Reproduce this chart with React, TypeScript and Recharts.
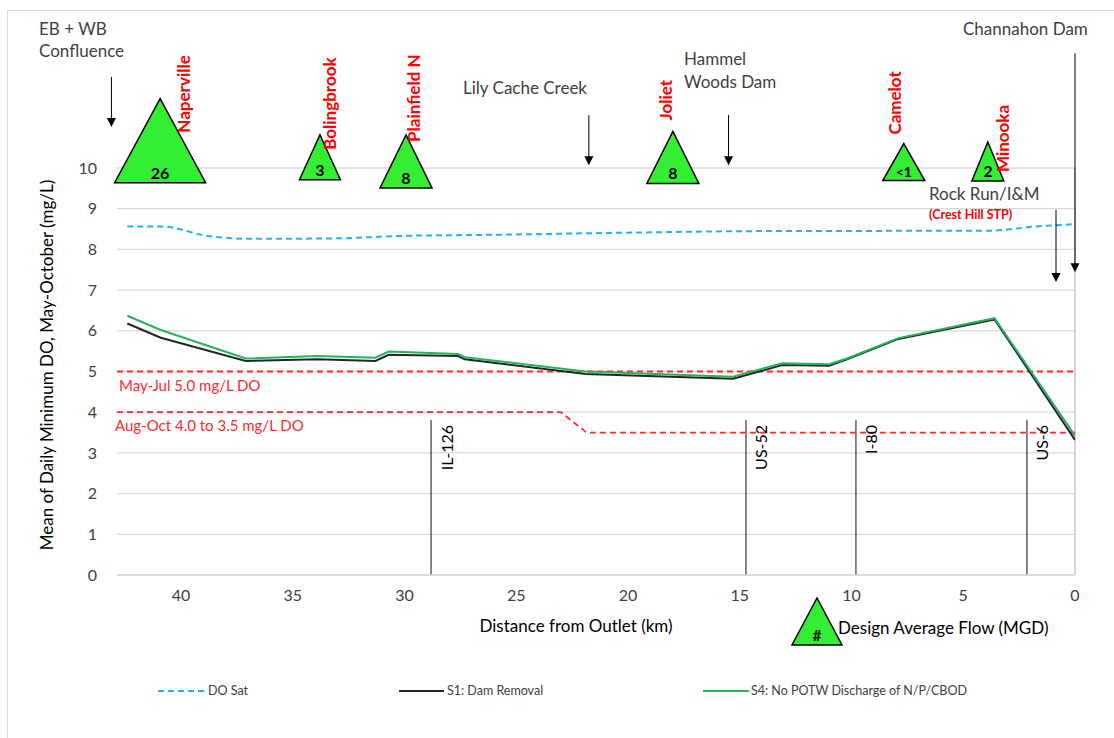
import React from "react";
import { LineChart, Line, XAxis, YAxis, CartesianGrid, ReferenceLine, ReferenceDot } from "recharts";

const FONT = "Lato, 'Open Sans', sans-serif";
const KM_MAX = 42.86;
const KM_TICKS = [40, 35, 30, 25, 20, 15, 10, 5, 0];
const DO_TICKS = [0, 1, 2, 3, 4, 5, 6, 7, 8, 9, 10];

// DO saturation
const SAT_KM = [42.4, 40.8, 38.8, 36.8, 33.2, 30.2, 26.0, 21.3, 14.0, 3.85, 1.8, 0];
const SAT_DO = [8.56, 8.56, 8.33, 8.26, 8.27, 8.33, 8.36, 8.40, 8.45, 8.46, 8.56, 8.62];

// model scenarios
const RUN_KM = [42.4, 40.9, 37.1, 33.9, 31.3, 30.7, 27.6, 27.3, 21.9, 15.3, 13.1, 11.0, 10.2, 7.9, 3.6, 0];
const S1_DO = [6.18, 5.83, 5.26, 5.30, 5.26, 5.41, 5.38, 5.30, 4.94, 4.82, 5.16, 5.14, 5.30, 5.80, 6.28, 3.32];
const S4_DO = [6.37, 6.02, 5.32, 5.38, 5.34, 5.49, 5.43, 5.35, 5.00, 4.87, 5.20, 5.18, 5.32, 5.82, 6.31, 3.42];

// DO standards
const MAYJUL_DO = 5.0;
const AUGOCT_KM = [42.86, 23.0, 21.85, 0];
const AUGOCT_DO = [4.0, 4.0, 3.5, 3.5];

// POTWs (design average flow, MGD)
const POTW_NAMES = ["Naperville", "Bolingbrook", "Plainfield N", "Joliet", "Camelot", "Minooka"];
const POTW_FLOW = ["26", "3", "8", "8", "<1", "2"];
const POTW_KM = [40.93, 33.78, 29.93, 17.99, 7.66, 3.9];
const POTW_BASE = [9.64, 9.71, 9.51, 9.62, 9.69, 9.68];

// road crossings
const ROAD_NAMES = ["IL-126", "US-52", "I-80", "US-6"];
const ROAD_KM = [28.81, 14.72, 9.8, 2.15];
const ROAD_TOP = 3.81;

// landmark arrows
const SITE_KM = [43.11, 21.75, 15.5, 0.85, 0];
const SITE_TIP = [11.01, 10.07, 10.07, 7.2, 7.44];

// annotation sizes
const TRI_W = [91, 41, 52, 52, 42, 32];
const TRI_H = [84, 45, 53, 52, 37, 39];
const NAME_DX = [23, 10, 7, -7, -9, 15];
const NAME_DY = [-50, -30, -46, -63, -46, -9];
const ARROW_LEN = [50, 50, 50, 72, 219];

const TRI_FILL = "#33EE33";
const RED = "#FF2A2A";
const TXT = "#404040";

const satData = SAT_KM.map((km, i) => ({ km, v: SAT_DO[i] }));
const s1Data = RUN_KM.map((km, i) => ({ km, v: S1_DO[i] }));
const s4Data = RUN_KM.map((km, i) => ({ km, v: S4_DO[i] }));
const augData = AUGOCT_KM.map((km, i) => ({ km, v: AUGOCT_DO[i] }));

const triangle = (i: number) => (p: any) => {
  const { cx, cy } = p;
  const w = TRI_W[i], h = TRI_H[i];
  return (
    <g>
      <polygon points={`${cx - w / 2},${cy} ${cx + w / 2},${cy} ${cx},${cy - h}`} fill={TRI_FILL} stroke="#000" strokeWidth={1.5} />
      <text x={cx} y={cy - 4} textAnchor="middle" fontSize={POTW_FLOW[i] === "<1" ? 14 : 16} fontWeight="bold" fontFamily={FONT} fill="#000">
        {POTW_FLOW[i]}
      </text>
      <text transform={`translate(${cx + NAME_DX[i]},${cy + NAME_DY[i]}) rotate(-90)`} dominantBaseline="central"
        fill="#FF0000" fontSize={17} fontWeight="bold" fontFamily={FONT}>
        {POTW_NAMES[i]}
      </text>
    </g>
  );
};

const arrow = (i: number) => (p: any) => {
  const { cx, cy } = p;
  return (
    <g>
      <line x1={cx} y1={cy - ARROW_LEN[i]} x2={cx} y2={cy - 8} stroke="#000" strokeWidth={1} />
      <polygon points={`${cx - 4.5},${cy - 9} ${cx + 4.5},${cy - 9} ${cx},${cy}`} fill="#000" />
    </g>
  );
};

const roadLabel = (i: number) => (p: any) => {
  const { cx, cy } = p;
  return (
    <text transform={`translate(${cx + 15},${cy + 5}) rotate(-90)`} textAnchor="end" dominantBaseline="central"
      fontSize={16} fontFamily={FONT} fill="#000">
      {ROAD_NAMES[i]}
    </text>
  );
};

export default function App() {
  return (
    <div style={{ position: "absolute", left: 0, top: 0, width: 1114, height: 738, background: "#fff", fontFamily: FONT }}>
      <div style={{ position: "absolute", left: 7, top: 10, width: 1120, height: 740, borderLeft: "1px solid #D9D9D9", borderTop: "1px solid #D9D9D9" }} />
      <LineChart width={1114} height={738} margin={{ top: 168, right: 39, bottom: 133, left: 57 }}>
        <CartesianGrid vertical={false} stroke="#D9D9D9" strokeWidth={1.3} />
        <XAxis type="number" dataKey="km" domain={[0, KM_MAX]} ticks={KM_TICKS} reversed allowDataOverflow
          height={30} tickLine={false} tickSize={0} tickMargin={15} axisLine={{ stroke: "#D9D9D9", strokeWidth: 1.3 }}
          tick={{ fontSize: 16, fill: TXT, fontFamily: FONT }} interval={0} />
        <YAxis type="number" domain={[0, 10]} ticks={DO_TICKS} allowDataOverflow width={60} axisLine={false}
          tickLine={false} tickSize={0} tickMargin={20} tick={{ fontSize: 16, fill: TXT, fontFamily: FONT }} interval={0} />
        <ReferenceLine x={0} stroke="#BFBFBF" strokeWidth={1.3} />
        <ReferenceLine y={MAYJUL_DO} stroke={RED} strokeWidth={1.8} strokeDasharray="6 4" />
        {ROAD_KM.map((km, i) => (
          <ReferenceLine key={ROAD_NAMES[i]} segment={[{ x: km, y: 0 }, { x: km, y: ROAD_TOP }]} stroke="#111" strokeWidth={1} />
        ))}
        {ROAD_KM.map((km, i) => (
          <ReferenceDot key={"rl" + i} x={km} y={ROAD_TOP} r={0} ifOverflow="visible" shape={roadLabel(i)} />
        ))}
        <Line data={augData} dataKey="v" type="linear" stroke={RED} strokeWidth={1.8} strokeDasharray="6 4" dot={false} activeDot={false} isAnimationActive={false} />
        <Line data={satData} dataKey="v" type="monotone" stroke="#1FB5F0" strokeWidth={2} strokeDasharray="6 4" dot={false} activeDot={false} isAnimationActive={false} />
        <Line data={s1Data} dataKey="v" type="linear" stroke="#262626" strokeWidth={2} dot={false} activeDot={false} isAnimationActive={false} />
        <Line data={s4Data} dataKey="v" type="linear" stroke="#25B35C" strokeWidth={2} dot={false} activeDot={false} isAnimationActive={false} />
        {POTW_KM.map((km, i) => (
          <ReferenceDot key={POTW_NAMES[i]} x={km} y={POTW_BASE[i]} r={0} ifOverflow="visible" shape={triangle(i)} />
        ))}
        {SITE_KM.map((km, i) => (
          <ReferenceDot key={"s" + i} x={km} y={SITE_TIP[i]} r={0} ifOverflow="visible" shape={arrow(i)} />
        ))}
      </LineChart>
      <svg width={1114} height={738} style={{ position: "absolute", left: 0, top: 0, pointerEvents: "none" }}>
        <g fontSize={17} fill={TXT} fontFamily={FONT}>
          <text x={39} y={35}>EB + WB</text>
          <text x={39} y={57}>Confluence</text>
          <text x={463} y={94}>Lily Cache Creek</text>
          <text x={684} y={65}>Hammel</text>
          <text x={684} y={88}>Woods Dam</text>
          <text x={929} y={200}>Rock Run/I&amp;M</text>
          <text x={963} y={35}>Channahon Dam</text>
        </g>
        <g fontFamily={FONT}>
          <text x={929} y={219} fontSize={12.5} fontWeight="bold" fill="#FF0000">(Crest Hill STP)</text>
          <text x={119} y={391} fontSize={15} fill={RED}>May-Jul 5.0 mg/L DO</text>
          <text x={115} y={431} fontSize={15} fill={RED}>Aug-Oct 4.0 to 3.5 mg/L DO</text>
          <text transform="translate(46,365) rotate(-90)" textAnchor="middle" dominantBaseline="central" fontSize={17} fill="#000">
            Mean of Daily Minimum DO, May-October (mg/L)
          </text>
          <text x={576} y={632} textAnchor="middle" fontSize={17} fill="#000">Distance from Outlet (km)</text>
          <polygon points="792,645 842,645 817,598" fill={TRI_FILL} stroke="#000" strokeWidth={1.5} />
          <text x={817} y={641} textAnchor="middle" fontSize={15} fontWeight="bold" fill="#000">#</text>
          <text x={838} y={634} fontSize={17} fill="#000">Design Average Flow (MGD)</text>
        </g>
        <g fontSize={12.5} fill={TXT} fontFamily={FONT}>
          <line x1={158} y1={691} x2={204} y2={691} stroke="#1FB5F0" strokeWidth={2} strokeDasharray="6 4" />
          <text x={208} y={695}>DO Sat</text>
          <line x1={399} y1={691} x2={444} y2={691} stroke="#262626" strokeWidth={2} />
          <text x={447} y={695}>S1: Dam Removal</text>
          <line x1={703} y1={691} x2={749} y2={691} stroke="#25B35C" strokeWidth={2} />
          <text x={751} y={695}>S4: No POTW Discharge of N/P/CBOD</text>
        </g>
      </svg>
    </div>
  );
}
